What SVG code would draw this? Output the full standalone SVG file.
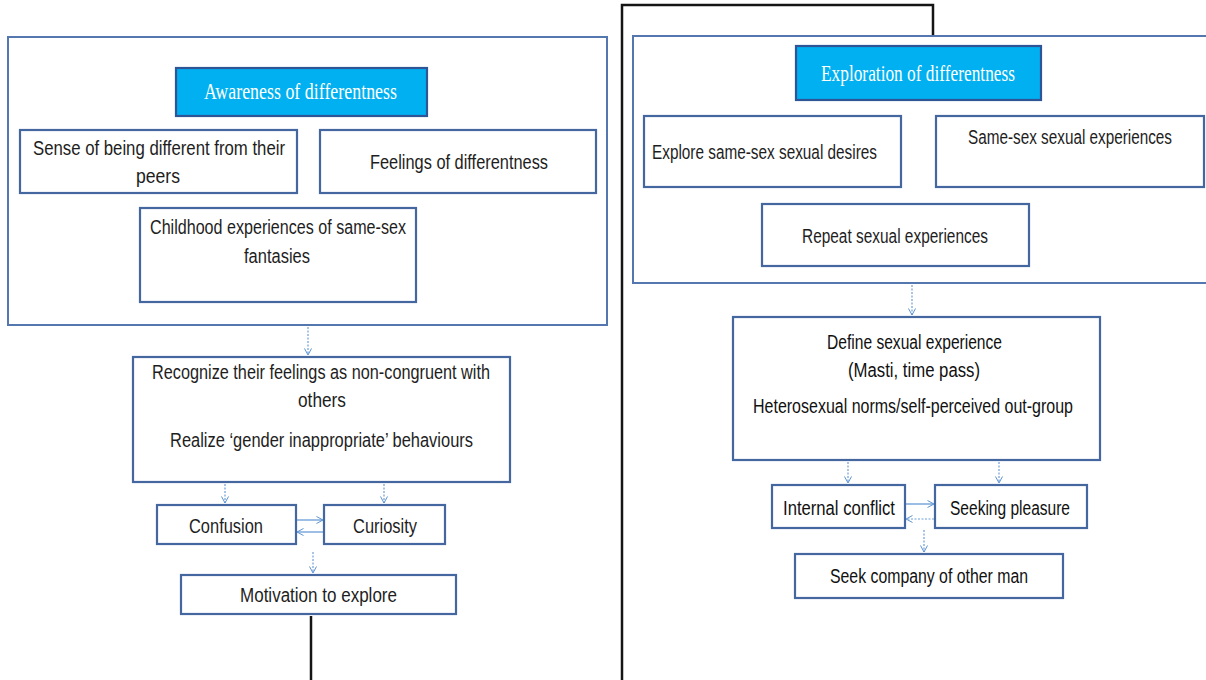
<svg xmlns="http://www.w3.org/2000/svg" width="1206" height="680" viewBox="0 0 1206 680">
  <defs>
    <marker id="arr" viewBox="0 0 8 8" refX="7" refY="4" markerWidth="8" markerHeight="8" markerUnits="userSpaceOnUse" orient="auto">
      <path d="M0.5,0.5 L7,4 L0.5,7.5" fill="none" stroke="#5b93d3" stroke-width="1"/>
    </marker>
    <style>
      .frame { fill: #ffffff; stroke: #5577b0; stroke-width: 2; }
      .box { fill: #ffffff; stroke: #44679f; stroke-width: 2.2; }
      .head { fill: #00b0f0; stroke: #2f5597; stroke-width: 2.2; }
      .t { font-family: "Liberation Sans", Arial, sans-serif; font-size: 20px; fill: #1e1e1e; }
      .tb { font-family: "Liberation Sans", Arial, sans-serif; font-size: 20px; fill: #111111; }
      .h { font-family: "Liberation Serif", "Times New Roman", serif; font-size: 23px; fill: #ffffff; }
      .dl { fill: none; stroke: #6f9fd8; stroke-width: 1.2; stroke-dasharray: 2 1.5; }
      .sl { fill: none; stroke: #5b93d3; stroke-width: 1.2; }
      .black { fill: none; stroke: #151515; stroke-width: 2.5; }
    </style>
  </defs>

  <rect width="1206" height="680" fill="#ffffff"/>

  <!-- heavy black guide lines -->
  <g id="guides">
    <polyline class="black" points="622,680 622,5 933,5 933,36"/>
    <line class="black" x1="311" y1="616" x2="311" y2="680"/>
  </g>

  <!-- stage 1 frame -->
  <g id="stage-awareness">
    <rect class="frame" x="8" y="37" width="599" height="288"/>
  </g>
  <!-- stage 2 frame (runs past the right edge) -->
  <g id="stage-exploration">
    <rect class="frame" x="633" y="36" width="600" height="247"/>
  </g>

  <!-- left column nodes -->
  <g id="awareness">
    <rect class="head" x="176" y="68" width="251" height="48"/>
    <text class="h" x="204" y="99" textLength="193" lengthAdjust="spacingAndGlyphs">Awareness of differentness</text>
  </g>
  <g id="sense-different">
    <rect class="box" x="20" y="130" width="277" height="63"/>
    <text class="t" x="33" y="155" textLength="252" lengthAdjust="spacingAndGlyphs">Sense of being different from their</text>
    <text class="t" x="158" y="183" text-anchor="middle" textLength="44" lengthAdjust="spacingAndGlyphs">peers</text>
  </g>
  <g id="feelings-differentness">
    <rect class="box" x="320" y="130" width="276" height="63"/>
    <text class="t" x="370" y="169" textLength="178" lengthAdjust="spacingAndGlyphs">Feelings of differentness</text>
  </g>
  <g id="childhood-fantasies">
    <rect class="box" x="140" y="208" width="276" height="94"/>
    <text class="t" x="150" y="234" textLength="256" lengthAdjust="spacingAndGlyphs">Childhood experiences of same-sex</text>
    <text class="t" x="277" y="263" text-anchor="middle" textLength="66" lengthAdjust="spacingAndGlyphs">fantasies</text>
  </g>
  <g id="recognize">
    <rect class="box" x="133" y="357" width="377" height="125"/>
    <text class="t" x="152" y="379" textLength="338" lengthAdjust="spacingAndGlyphs">Recognize their feelings as non-congruent with</text>
    <text class="t" x="322" y="407" text-anchor="middle" textLength="48" lengthAdjust="spacingAndGlyphs">others</text>
    <text class="t" x="170" y="447" textLength="303" lengthAdjust="spacingAndGlyphs">Realize ‘gender inappropriate’ behaviours</text>
  </g>
  <g id="confusion">
    <rect class="box" x="157" y="505" width="139" height="39"/>
    <text class="t" x="189" y="533" textLength="74" lengthAdjust="spacingAndGlyphs">Confusion</text>
  </g>
  <g id="curiosity">
    <rect class="box" x="324" y="505" width="121" height="39"/>
    <text class="t" x="353" y="533" textLength="64" lengthAdjust="spacingAndGlyphs">Curiosity</text>
  </g>
  <g id="motivation">
    <rect class="box" x="181" y="575" width="275" height="39"/>
    <text class="t" x="240" y="602" textLength="157" lengthAdjust="spacingAndGlyphs">Motivation to explore</text>
  </g>

  <!-- right column nodes -->
  <g id="exploration">
    <rect class="head" x="796" y="46" width="245" height="54"/>
    <text class="h" x="821" y="81" textLength="194" lengthAdjust="spacingAndGlyphs" style="font-size:24px">Exploration of differentness</text>
  </g>
  <g id="explore-desires">
    <rect class="box" x="644" y="116" width="257" height="71"/>
    <text class="t" x="652" y="159" textLength="225" lengthAdjust="spacingAndGlyphs">Explore same-sex sexual desires</text>
  </g>
  <g id="same-sex-experiences">
    <rect class="box" x="936" y="116" width="268" height="71"/>
    <text class="t" x="968" y="144" textLength="204" lengthAdjust="spacingAndGlyphs">Same-sex sexual experiences</text>
  </g>
  <g id="repeat-experiences">
    <rect class="box" x="762" y="204" width="267" height="62"/>
    <text class="t" x="802" y="243" textLength="186" lengthAdjust="spacingAndGlyphs">Repeat sexual experiences</text>
  </g>
  <g id="define-experience">
    <rect class="box" x="733" y="317" width="367" height="143"/>
    <text class="tb" x="827" y="349" textLength="175" lengthAdjust="spacingAndGlyphs">Define sexual experience</text>
    <text class="tb" x="848" y="377" textLength="132" lengthAdjust="spacingAndGlyphs">(Masti, time pass)</text>
    <text class="tb" x="753" y="413" textLength="320" lengthAdjust="spacingAndGlyphs">Heterosexual norms/self-perceived out-group</text>
  </g>
  <g id="internal-conflict">
    <rect class="box" x="772" y="485" width="133" height="43"/>
    <text class="tb" x="783" y="515" textLength="112" lengthAdjust="spacingAndGlyphs">Internal conflict</text>
  </g>
  <g id="seeking-pleasure">
    <rect class="box" x="935" y="485" width="152" height="43"/>
    <text class="tb" x="950" y="515" textLength="120" lengthAdjust="spacingAndGlyphs">Seeking pleasure</text>
  </g>
  <g id="seek-company">
    <rect class="box" x="795" y="554" width="268" height="44"/>
    <text class="tb" x="830" y="583" textLength="198" lengthAdjust="spacingAndGlyphs">Seek company of other man</text>
  </g>

  <!-- connectors -->
  <g id="connectors">
    <line class="dl" x1="308" y1="327" x2="308" y2="355" marker-end="url(#arr)"/>
    <line class="dl" x1="225" y1="484" x2="225" y2="503" marker-end="url(#arr)"/>
    <line class="dl" x1="384" y1="484" x2="384" y2="503" marker-end="url(#arr)"/>
    <line class="sl" x1="297" y1="520" x2="323" y2="520" marker-end="url(#arr)"/>
    <line class="sl" x1="323" y1="532" x2="297" y2="532" marker-end="url(#arr)"/>
    <line class="dl" x1="313" y1="552" x2="313" y2="573" marker-end="url(#arr)"/>

    <line class="dl" x1="912" y1="285" x2="912" y2="315" marker-end="url(#arr)"/>
    <line class="dl" x1="848" y1="462" x2="848" y2="483" marker-end="url(#arr)"/>
    <line class="dl" x1="999" y1="462" x2="999" y2="483" marker-end="url(#arr)"/>
    <line class="sl" x1="906" y1="504" x2="934" y2="504" marker-end="url(#arr)"/>
    <line class="dl" x1="934" y1="519" x2="906" y2="519" marker-end="url(#arr)"/>
    <line class="dl" x1="924" y1="530" x2="924" y2="552" marker-end="url(#arr)"/>
  </g>
</svg>
